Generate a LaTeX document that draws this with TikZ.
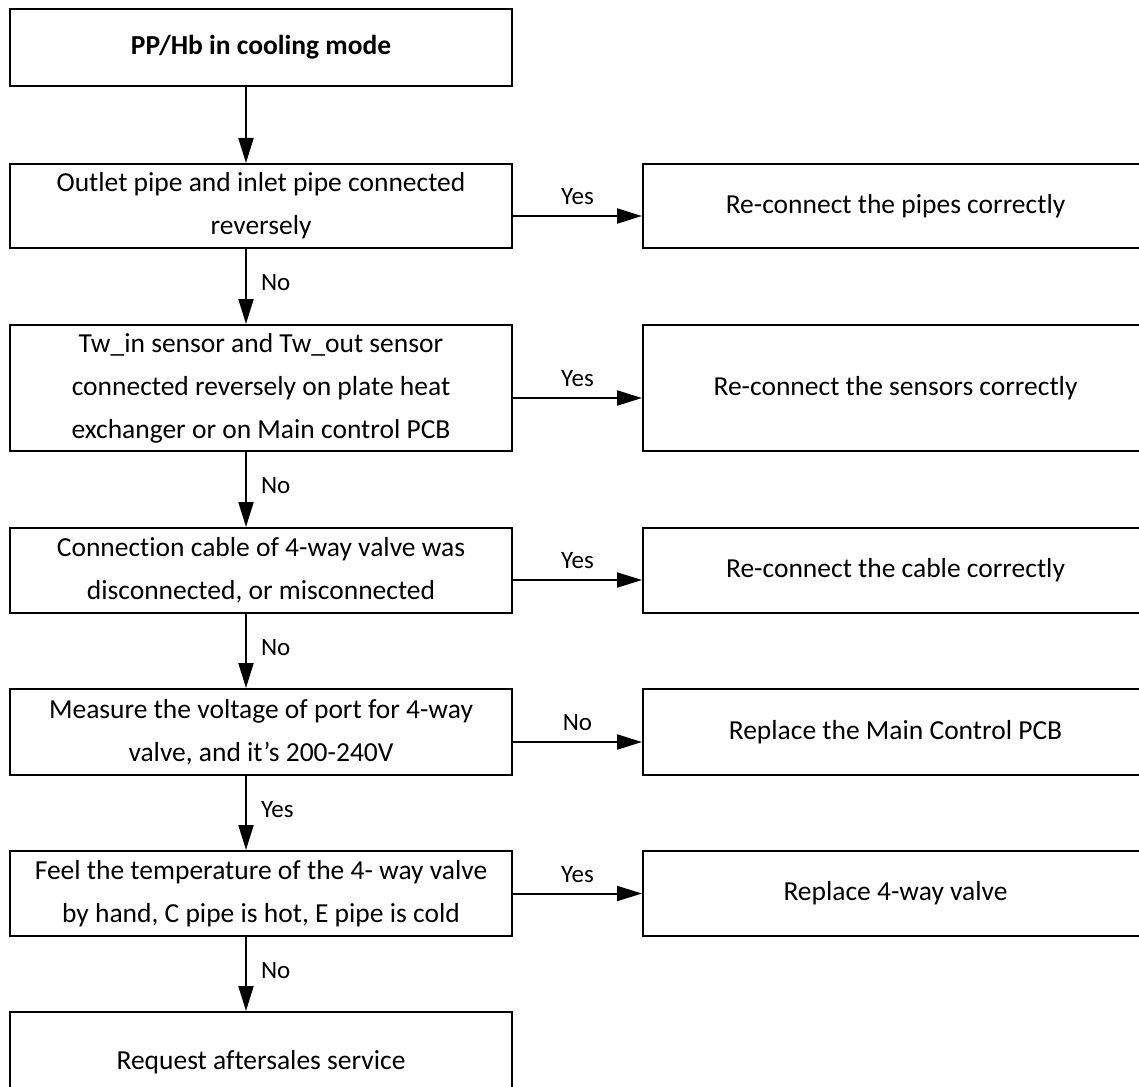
\documentclass[tikz,border=0pt]{standalone}
\usepackage{fontspec}
\setmainfont{Carlito}[Ligatures=CommonOff]
\usetikzlibrary{arrows.meta}
\begin{document}
\begin{tikzpicture}[x=1pt,y=-1pt,
  box/.style={draw, line width=2pt, rectangle, inner sep=0pt, align=center,
              font=\fontsize{27.5}{43}\selectfont},
  lbox/.style={box, minimum width=502pt},
  rbox/.style={box, minimum width=505pt},
  arr/.style={line width=2pt, -{Triangle[length=25pt,width=15pt]}},
  lab/.style={font=\fontsize{25}{30}\selectfont, inner sep=0pt}]
\useasboundingbox (0,0) rectangle (1139,1086);
\clip (0,0) rectangle (1139,1086);

% left column
\node[lbox, minimum height=77pt, font=\bfseries\fontsize{27.5}{43}\selectfont] (n1) at (261,47.5) {PP/Hb in cooling mode};
\node[lbox, minimum height=84pt]  (n2) at (261,206)   {Outlet pipe and inlet pipe connected\\reversely};
\node[lbox, minimum height=126pt] (n3) at (261,388)   {Tw\_in sensor and Tw\_out sensor\\connected reversely on plate heat\\exchanger or on Main control PCB};
\node[lbox, minimum height=85pt]  (n4) at (261,570.5) {Connection cable of 4-way valve was\\disconnected, or misconnected};
\node[lbox, minimum height=86pt]  (n5) at (261,732)   {Measure the voltage of port for 4-way\\valve, and it’s 200-240V};
\node[lbox, minimum height=85pt]  (n6) at (261,893.5) {Feel the temperature of the 4- way valve\\by hand, C pipe is hot, E pipe is cold};
\node[lbox, minimum height=100pt] (n7) at (261,1062)  {Request aftersales service};

% right column
\node[rbox, minimum height=84pt]  (r2) at (895.5,206)   {Re-connect the pipes correctly};
\node[rbox, minimum height=126pt] (r3) at (895.5,388)   {Re-connect the sensors correctly};
\node[rbox, minimum height=85pt]  (r4) at (895.5,570.5) {Re-connect the cable correctly};
\node[rbox, minimum height=86pt]  (r5) at (895.5,732)   {Replace the Main Control PCB};
\node[rbox, minimum height=85pt]  (r6) at (895.5,893.5) {Replace 4-way valve};

% vertical connectors
\coordinate (ax) at (246,0);
\draw[arr] (n1.south -| ax) -- (n2.north -| ax);
\draw[arr] (n2.south -| ax) -- node[lab, pos=0.45, anchor=west, xshift=14pt] {No}  (n3.north -| ax);
\draw[arr] (n3.south -| ax) -- node[lab, pos=0.45, anchor=west, xshift=14pt] {No}  (n4.north -| ax);
\draw[arr] (n4.south -| ax) -- node[lab, pos=0.45, anchor=west, xshift=14pt] {No}  (n5.north -| ax);
\draw[arr] (n5.south -| ax) -- node[lab, pos=0.45, anchor=west, xshift=14pt] {Yes} (n6.north -| ax);
\draw[arr] (n6.south -| ax) -- node[lab, pos=0.45, anchor=west, xshift=14pt] {No}  (n7.north -| ax);

% horizontal connectors
\draw[arr] ([yshift=-10pt]n2.east) -- node[lab, midway, yshift=19pt] {Yes} ([yshift=-10pt]r2.west);
\draw[arr] ([yshift=-10pt]n3.east) -- node[lab, midway, yshift=19pt] {Yes} ([yshift=-10pt]r3.west);
\draw[arr] ([yshift=-9.5pt]n4.east) -- node[lab, midway, yshift=19pt] {Yes} ([yshift=-9.5pt]r4.west);
\draw[arr] ([yshift=-10pt]n5.east) -- node[lab, midway, yshift=19pt] {No} ([yshift=-10pt]r5.west);
\draw[arr] (n6.east) -- node[lab, midway, yshift=19pt] {Yes} (r6.west);
\end{tikzpicture}
\end{document}
